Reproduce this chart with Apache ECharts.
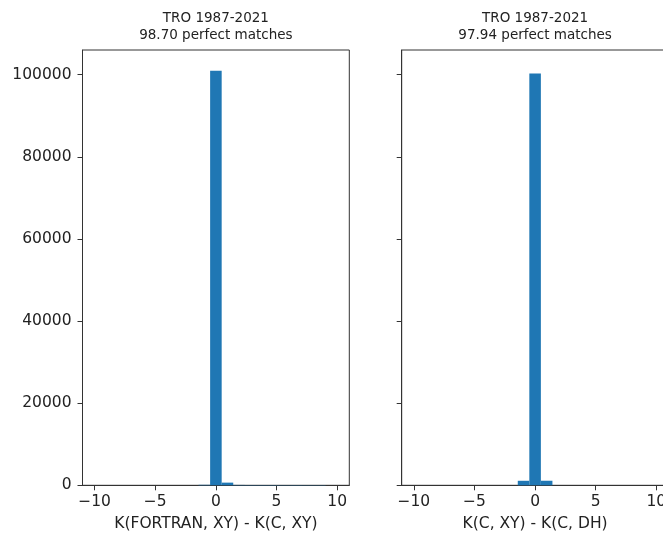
<!DOCTYPE html>
<html><head><meta charset="utf-8">
<script src="https://cdn.jsdelivr.net/npm/echarts@6/dist/echarts.min.js"></script>
<style>html,body{margin:0;padding:0;background:#fff}#c{width:663px;height:538px}</style>
</head><body><div id="c"></div>
<script>
// Histogram bin edges (21 bins over -10..10)
const binEdges = [-10, -9.048, -8.095, -7.143, -6.190, -5.238, -4.286, -3.333, -2.381, -1.429,
  -0.476, 0.476, 1.429, 2.381, 3.333, 4.286, 5.238, 6.190, 7.143, 8.095, 9.048, 10];
// Counts per bin, left panel: K(FORTRAN, XY) - K(C, XY)
const countsLeft = [0, 0, 0, 0, 0, 0, 0, 0, 0, 120, 100970, 650, 90, 80, 70, 70, 60, 70, 60, 60, 0];
// Counts per bin, right panel: K(C, XY) - K(C, DH)
const countsRight = [0, 0, 0, 0, 0, 0, 0, 0, 0, 1100, 100320, 1110, 0, 0, 0, 0, 0, 0, 0, 0, 0];
const xTicks = [-10, -5, 0, 5, 10];
const yTicks = [0, 20000, 40000, 60000, 80000, 100000];
const titles = ['TRO 1987-2021\n98.70 perfect matches', 'TRO 1987-2021\n97.94 perfect matches'];
const xNames = ['K(FORTRAN, XY) - K(C, XY)', 'K(C, XY) - K(C, DH)'];

const FONT = 'DejaVu Sans';
const TXT = '#222';
const LINE = '#333';
const yMax = 1.05 * Math.max(...countsLeft, ...countsRight);

function toBins(counts) {
  return counts.map((c, i) => [binEdges[i], binEdges[i + 1], c]);
}
function renderItem(params, api) {
  const p0 = api.coord([api.value(0), api.value(2)]);
  const p1 = api.coord([api.value(1), 0]);
  return {
    type: 'rect',
    shape: { x: p0[0], y: p0[1], width: p1[0] - p0[0], height: p1[1] - p0[1] },
    style: { fill: '#1f77b4' }
  };
}
const fmtX = v => (v < 0 ? '\u2212' + Math.abs(v) : String(v));
const fmtY = v => String(Math.round(v));

const grids = [
  { left: 82.5, top: 50, width: 266.8, height: 435.3 },
  { left: 401.7, top: 50, width: 266.8, height: 435.3 }
];

const option = {
  animation: false,
  backgroundColor: '#fff',
  grid: grids.map(g => Object.assign({
    show: true, borderColor: LINE, borderWidth: 1, backgroundColor: 'transparent',
    containLabel: false, outerBoundsMode: 'none'
  }, g)),
  xAxis: [0, 1].map(i => ({
    type: 'value', gridIndex: i, min: -11, max: 11,
    name: xNames[i], nameLocation: 'middle', nameGap: 31,
    nameTextStyle: { fontFamily: FONT, fontSize: 15.5, color: TXT },
    splitLine: { show: false },
    axisLine: { show: true, onZero: false, lineStyle: { color: LINE, width: 1 } },
    axisTick: { show: true, length: 5, lineStyle: { color: LINE }, customValues: xTicks },
    axisLabel: { fontFamily: FONT, fontSize: 15.5, color: TXT, margin: 9, formatter: fmtX, customValues: xTicks }
  })),
  yAxis: [0, 1].map(i => ({
    type: 'value', gridIndex: i, min: 0, max: yMax,
    splitLine: { show: false },
    axisLine: { show: true, onZero: false, lineStyle: { color: LINE, width: 1 } },
    axisTick: { show: true, length: 5, lineStyle: { color: LINE }, customValues: yTicks },
    axisLabel: { show: i === 0, fontFamily: FONT, fontSize: 15.5, color: TXT, margin: 11, formatter: fmtY, customValues: yTicks }
  })),
  graphic: [0, 1].map(i => ({
    type: 'text',
    x: grids[i].left + grids[i].width / 2,
    y: 10,
    style: { text: titles[i], fontFamily: FONT, fontSize: 13.5, lineHeight: 16.7, fill: TXT, align: 'center', verticalAlign: 'top' }
  })),
  series: [countsLeft, countsRight].map((c, i) => ({
    type: 'custom', xAxisIndex: i, yAxisIndex: i,
    renderItem: renderItem,
    encode: { x: [0, 1], y: 2 },
    data: toBins(c)
  }))
};
echarts.init(document.getElementById('c')).setOption(option);
</script></body></html>
